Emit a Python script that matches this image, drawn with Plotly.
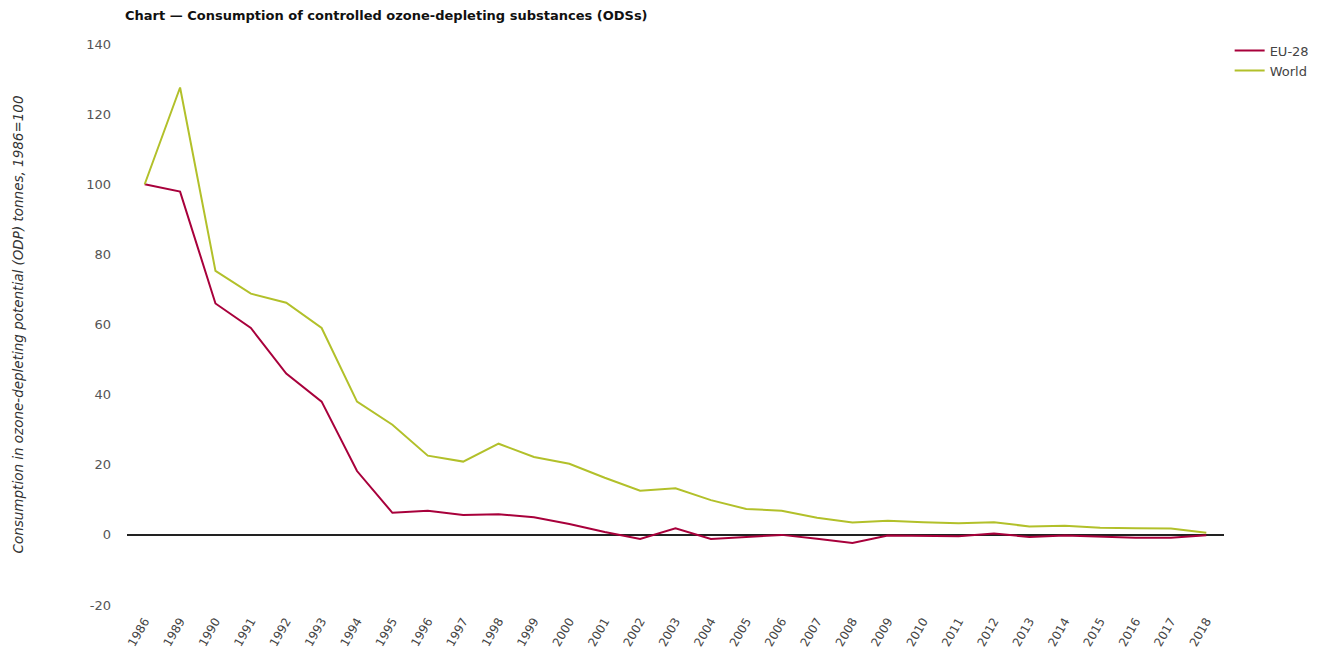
import plotly.graph_objects as go

years = ["1986", "1989", "1990", "1991", "1992", "1993", "1994", "1995", "1996", "1997",
         "1998", "1999", "2000", "2001", "2002", "2003", "2004", "2005", "2006", "2007",
         "2008", "2009", "2010", "2011", "2012", "2013", "2014", "2015", "2016", "2017", "2018"]

eu28 = [100, 97.9, 66, 59, 46, 38, 18.2, 6.3, 6.9, 5.7,
        5.9, 5.0, 3.1, 0.8, -1.2, 1.9, -1.2, -0.5, 0, -1.1,
        -2.3, -0.2, -0.2, -0.4, 0.4, -0.6, -0.2, -0.6, -0.8, -0.8, -0.1]

world = [100, 127.6, 75.3, 68.8, 66.2, 59, 38, 31.4, 22.6, 20.9,
         26.0, 22.2, 20.3, 16.3, 12.6, 13.3, 9.9, 7.4, 6.9, 4.9,
         3.5, 4.0, 3.6, 3.3, 3.6, 2.4, 2.6, 2.0, 1.9, 1.8, 0.6]

y_ticks = [-20, 0, 20, 40, 60, 80, 100, 120, 140]
y_ticktext = ["-20", "0", "20", "40", "60", "80", "100", "120", "140"]

fig = go.Figure()
fig.add_trace(go.Scatter(x=years, y=eu28, mode="lines", name="EU-28",
                         line=dict(color="#a8003b", width=2)))
fig.add_trace(go.Scatter(x=years, y=world, mode="lines", name="World",
                         line=dict(color="#b2c02a", width=2)))

fig.update_layout(
    width=1317, height=652,
    margin=dict(l=119, r=101, t=36, b=55, autoexpand=False),
    paper_bgcolor="white", plot_bgcolor="white",
    font=dict(family="DejaVu Sans, Verdana, sans-serif", size=12, color="#555"),
    title=dict(text="<b>Chart — Consumption of controlled ozone-depleting substances (ODSs)</b>",
               x=117 / 1317, xanchor="left", y=1 - 7 / 652, yanchor="middle",
               font=dict(size=13, color="#111")),
    showlegend=True,
    legend=dict(xref="container", yref="container", x=0.9276, xanchor="left",
                y=0.9577, yanchor="top",
                font=dict(size=13, color="#444"), tracegroupgap=2),
    xaxis=dict(type="category", range=[-0.5, 30.5], tickangle=-60,
               showgrid=False, showline=False, ticks="", zeroline=False,
               tickfont=dict(size=12, color="#444"), automargin=False,
               ticklabelstandoff=6),
    yaxis=dict(range=[-20, 140], tickvals=y_ticks, ticktext=y_ticktext,
               showgrid=False, showline=False,
               zeroline=True, zerolinecolor="#222", zerolinewidth=1.5,
               ticks="", tickfont=dict(size=13, color="#555"), automargin=False,
               ticklabelstandoff=15,
               title=dict(text="<i>Consumption in ozone-depleting potential (ODP) tonnes, 1986=100</i>",
                          font=dict(size=13.5, color="#333"), standoff=59)),
)

fig.write_html("out.html")
